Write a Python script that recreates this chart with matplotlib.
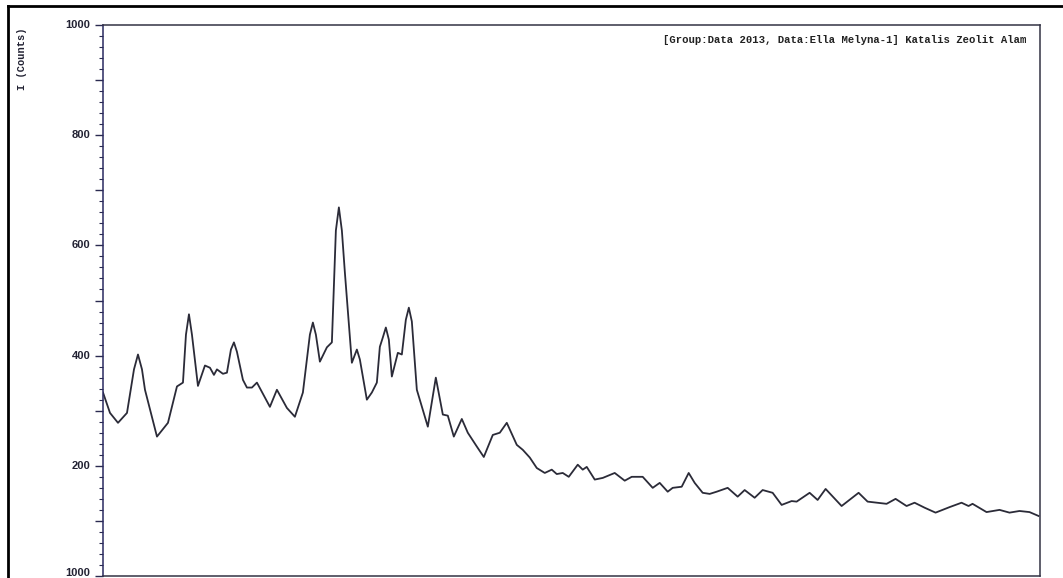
import matplotlib
matplotlib.use("Agg")
import matplotlib.pyplot as plt
from matplotlib.lines import Line2D
from matplotlib.ticker import MultipleLocator

# 2-theta (deg) and intensity (counts)
two_theta = [
    5.0, 5.56, 6.2, 6.92, 7.48, 7.8, 8.12, 8.36, 9.32, 10.2, 10.92, 11.4,
    11.64, 11.88, 12.12, 12.6, 13.16, 13.56, 13.88, 14.12, 14.6, 14.92, 15.24,
    15.48, 15.72, 16.2, 16.52, 16.92, 17.32, 18.36, 18.92, 19.72, 20.36, 21.0,
    21.56, 21.8, 22.04, 22.36, 22.92, 23.32, 23.64, 23.88, 24.12, 24.36, 24.92,
    25.32, 25.56, 26.12, 26.52, 26.92, 27.16, 27.4, 27.64, 27.88, 28.12, 28.6,
    28.92, 29.24, 29.48, 29.72, 30.12, 31.0, 31.64, 32.2, 32.6, 33.08, 33.72,
    34.2, 34.92, 35.48, 36.2, 36.76, 37.32, 38.12, 38.6, 39.16, 39.72, 40.36,
    40.92, 41.32, 41.8, 42.28, 43.0, 43.4, 43.72, 44.36, 45.0, 45.96, 46.76,
    47.32, 48.2, 49.0, 49.56, 50.2, 50.6, 51.32, 51.88, 52.36, 53.0, 53.56,
    54.12, 55.0, 55.8, 56.36, 57.16, 57.8, 58.6, 59.32, 60.12, 60.52, 61.56,
    62.2, 62.84, 64.12, 65.48, 66.2, 67.72, 68.44, 69.32, 69.96, 70.76, 71.64,
    72.76, 73.72, 74.28, 74.6, 75.72, 76.76, 77.56, 78.36, 79.16, 79.88,
]
counts = [
    333, 296, 278, 296, 375, 402, 375, 338, 253, 278, 344, 351,
    438, 475, 438, 345, 382, 378, 365, 375, 367, 369, 411,
    424, 407, 356, 342, 342, 351, 307, 338, 305, 289, 333,
    438, 460, 438, 389, 415, 424, 627, 669, 627, 551, 387,
    411, 393, 320, 333, 351, 416, 433, 451, 429, 362, 405,
    402, 465, 487, 462, 338, 271, 360, 293, 291, 253, 285,
    260, 235, 216, 256, 260, 278, 238, 229, 215, 196, 187,
    193, 185, 187, 180, 202, 193, 198, 175, 178, 187, 173,
    180, 180, 160, 169, 153, 160, 162, 187, 169, 151, 149,
    153, 160, 144, 156, 142, 156, 151, 129, 136, 135, 151,
    138, 158, 127, 151, 135, 131, 140, 127, 133, 124, 115,
    125, 133, 127, 131, 116, 120, 115, 118, 116, 109,
]

y_ticks = [0, 200, 400, 600, 800, 1000]
y_tick_labels = ["1000", "200", "400", "600", "800", "1000"]
title = "[Group:Data 2013, Data:Ella Melyna-1] Katalis Zeolit Alam"

W, H = 1063, 578
fig = plt.figure(figsize=(W / 100, H / 100), dpi=100)
ax = fig.add_axes([103 / W, 1 - 576 / H, (1040 - 103) / W, (576 - 25) / H])

ax.plot(two_theta, counts, color="#2b2b38", lw=1.3)

ax.set_xlim(5, 80)
ax.set_ylim(0, 1000)
ax.set_xticks([])

ax.yaxis.set_major_locator(MultipleLocator(100))
ax.yaxis.set_minor_locator(MultipleLocator(20))
ax.set_yticklabels([])
ax.tick_params(axis="y", which="major", length=6, width=1, color="#2a2a50")
ax.tick_params(axis="y", which="minor", length=3, width=0.8, color="#2a2a50")

# labels only on every 200 counts
for v, lab in zip(y_ticks, y_tick_labels):
    dy = 2 if v == 0 else 0
    ax.annotate(lab, xy=(0, v), xycoords=("axes fraction", "data"),
                xytext=(-9, dy), textcoords="offset points",
                ha="right", va="center", fontsize=8, fontweight="bold",
                family="Liberation Sans", color="#222233")

for s in ax.spines.values():
    s.set_color("#333344")
    s.set_linewidth(1.1)
ax.spines["left"].set_color("#2a2a60")

ax.annotate(title, xy=(1, 1), xycoords="axes fraction",
            xytext=(-10, -7), textcoords="offset points",
            ha="right", va="top", fontsize=7.7, fontweight="bold",
            family="Liberation Mono", color="#222222")

fig.text(22 / W, 1 - 28 / H, "I (Counts)", rotation=90, ha="center",
         va="top", fontsize=7.5, fontweight="bold", family="Liberation Mono",
         color="#222233")

# scanned page frame
fig.add_artist(Line2D([8 / W, 1], [1 - 6 / H, 1 - 6 / H], color="black",
                      lw=2, transform=fig.transFigure))
fig.add_artist(Line2D([8 / W, 8 / W], [0, 1 - 6 / H], color="black",
                      lw=2, transform=fig.transFigure))

fig.savefig("out.png", dpi=100)
plt.close(fig)
